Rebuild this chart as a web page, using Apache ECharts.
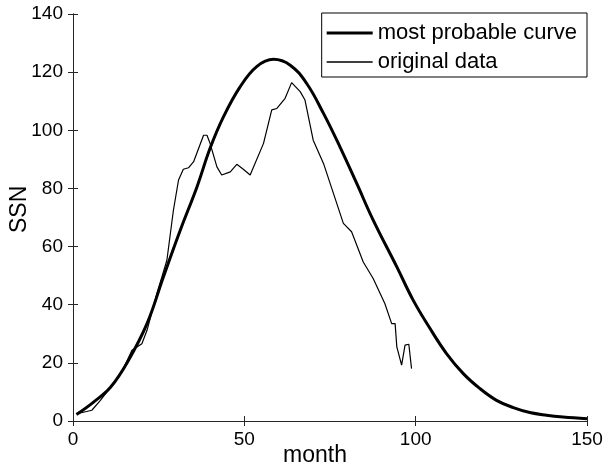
<!DOCTYPE html>
<html>
<head>
<meta charset="utf-8">
<script src="https://cdn.jsdelivr.net/npm/echarts@6/dist/echarts.min.js"></script>
<style>
  html, body { margin: 0; padding: 0; background: #fff; }
  #chart { width: 611px; height: 471px; }
</style>
</head>
<body>
<div id="chart"></div>
<script>
// most probable curve
const curveMonths = [1, 6, 11, 16, 21.6, 26.4, 31.3, 36.2, 40, 43.9, 48.8, 53.6, 58.5, 63.4, 68.2, 73.1, 77.9, 82.8, 87.6, 94.5, 99.3, 104.2, 109, 113.9, 118.7, 123.6, 128.5, 133.3, 138.2, 143, 150];
const curveSSN = [2.2, 6.5, 11.7, 20.5, 33.5, 49.6, 65.6, 80.6, 93.8, 104.6, 115, 121.9, 124.4, 122.4, 116.1, 105.8, 94.3, 81.7, 69.1, 53, 41.5, 31.8, 23.2, 16.3, 11.2, 7.1, 4.6, 2.9, 2.0, 1.4, 0.8];

// original data
const dataMonths = [1.2, 5.5, 8, 11.8, 14.3, 17.2, 20.1, 21.6, 24.5, 27.4, 29.3, 30.8, 32.2, 33.7, 35.2, 38.1, 39.1, 40, 42, 43.4, 45.9, 47.8, 49.7, 51.7, 55.6, 58, 59.5, 61.9, 63.8, 66.3, 67.7, 70.1, 73.1, 76, 78.9, 81.3, 84.7, 87.6, 91, 93, 94, 94.5, 95.9, 96.9, 98, 98.8];
const dataSSN = [2.5, 3.7, 7.1, 12.9, 16.9, 24.3, 26.6, 31.2, 43.9, 55.3, 72.5, 82.9, 86.6, 87.1, 89.2, 98.3, 98.3, 95.5, 87.4, 84.6, 85.7, 88.3, 86.6, 84.6, 95.5, 107, 107.5, 111, 116.4, 113.3, 110.4, 96.6, 88.6, 78.3, 68, 65.1, 54.7, 49, 40.4, 33.5, 33.5, 25.5, 19.2, 26.1, 26.4, 18];

const xTicks = [0, 50, 100, 150];
const yTicks = [0, 20, 40, 60, 80, 100, 120, 140];

const font = "Liberation Sans";
const axisColor = "#262626";

// legend swatches: a horizontal bar, padded so the icon box keeps its height
const lineIcon = (h) => `path://M0,0L0.01,0L0,0.01Z M0,${11 - h / 2}H46V${11 + h / 2}H0Z M0,22L0.01,22L0,21.99Z`;

const chart = echarts.init(document.getElementById("chart"));

const baseX = {
  type: "value", min: xTicks[0], max: xTicks[xTicks.length - 1], interval: xTicks[1] - xTicks[0],
  axisLine: { show: true, lineStyle: { color: axisColor, width: 1 } },
  axisTick: { show: true, inside: true, length: 5, lineStyle: { color: axisColor } },
  splitLine: { show: false }
};
const baseY = {
  type: "value", min: yTicks[0], max: yTicks[yTicks.length - 1], interval: yTicks[1] - yTicks[0],
  axisLine: { show: true, lineStyle: { color: axisColor, width: 1 } },
  axisTick: { show: true, inside: true, length: 5, lineStyle: { color: axisColor } },
  splitLine: { show: false }
};

chart.setOption({
  animation: false,
  textStyle: { fontFamily: font },
  grid: { left: 73, right: 24, top: 14, bottom: 50, outerBoundsMode: "none" },
  legend: {
    orient: "vertical",
    right: 24, top: 13,
    padding: [9, 10, 4, 5],
    itemGap: 7,
    itemWidth: 46, itemHeight: 22,
    borderColor: "#000", borderWidth: 1, borderRadius: 0,
    backgroundColor: "#fff",
    textStyle: { fontSize: 22, color: "#000", fontFamily: font },
    data: [
      { name: "most probable curve", icon: lineIcon(3), itemStyle: { color: "#000" } },
      { name: "original data", icon: lineIcon(1.4), itemStyle: { color: "#000" } }
    ]
  },
  xAxis: [
    { ...baseX, position: "bottom", axisLabel: { fontSize: 19, color: "#000", margin: 9, fontFamily: font } },
    { ...baseX, position: "top", axisLabel: { show: false } }
  ],
  yAxis: [
    { ...baseY, position: "left", axisLabel: { fontSize: 19, color: "#000", margin: 10, fontFamily: font } },
    { ...baseY, position: "right", axisLabel: { show: false } }
  ],
  // axis titles, placed where the reference has them
  graphic: [
    { type: "text", left: 283, top: 444,
      style: { text: "month", font: `23px "${font}"`, fill: "#000" } },
    { type: "text", x: 8, y: 233, rotation: Math.PI / 2,
      style: { text: "SSN", font: `23px "${font}"`, fill: "#000", verticalAlign: "top" } }
  ],
  series: [
    {
      name: "most probable curve", type: "line", smooth: 0.4, symbol: "none",
      lineStyle: { color: "#000", width: 3 }, itemStyle: { color: "#000" },
      data: curveMonths.map((m, i) => [m, curveSSN[i]])
    },
    {
      name: "original data", type: "line", smooth: false, symbol: "none",
      lineStyle: { color: "#000", width: 1.2 }, itemStyle: { color: "#000" },
      data: dataMonths.map((m, i) => [m, dataSSN[i]])
    }
  ]
});
</script>
</body>
</html>
